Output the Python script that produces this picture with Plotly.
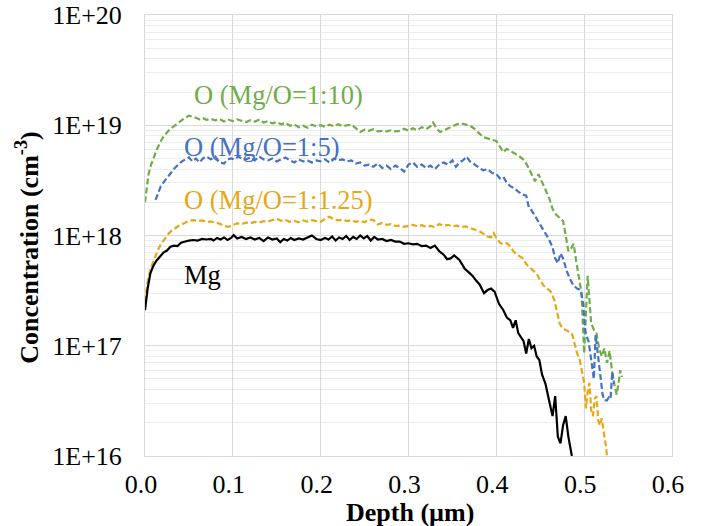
import numpy as np
import plotly.graph_objects as go

# SIMS depth profiles (depth in um, concentration in cm^-3)
mg_depth = [
    0.000, 0.003, 0.006, 0.009, 0.013, 0.017, 0.021, 0.025, 0.029, 0.033,
    0.037, 0.041, 0.045, 0.050, 0.055, 0.060, 0.065, 0.070, 0.075, 0.078,
    0.082, 0.086, 0.090, 0.094, 0.098, 0.101, 0.105, 0.110, 0.115, 0.120,
    0.125, 0.130, 0.135, 0.140, 0.145, 0.150, 0.154, 0.158, 0.162, 0.166,
    0.170, 0.175, 0.180, 0.185, 0.190, 0.195, 0.200, 0.205, 0.209, 0.213,
    0.217, 0.221, 0.225, 0.229, 0.233, 0.237, 0.241, 0.245, 0.249, 0.253,
    0.257, 0.261, 0.265, 0.270, 0.275, 0.280, 0.285, 0.290, 0.295, 0.300,
    0.305, 0.310, 0.315, 0.320, 0.325, 0.330, 0.335, 0.340, 0.344, 0.348,
    0.352, 0.358, 0.364, 0.369, 0.373, 0.377, 0.381, 0.386, 0.390, 0.394,
    0.398, 0.403, 0.408, 0.412, 0.416, 0.419, 0.422, 0.425, 0.428, 0.431,
    0.434, 0.437, 0.440, 0.443, 0.446, 0.449, 0.452, 0.456, 0.460, 0.464,
    0.467, 0.470, 0.473, 0.476, 0.479, 0.482, 0.486, 0.489,
]
mg_conc = [
    2.1e17, 3.3e17, 4.5e17, 5.2e17, 5.9e17, 6.4e17, 7.0e17, 7.3e17, 7.9e17, 8.1e17,
    8.0e17, 8.6e17, 8.8e17, 9.0e17, 9.1e17, 9.0e17, 9.3e17, 9.2e17, 9.3e17, 9.0e17,
    9.5e17, 9.2e17, 9.6e17, 9.1e17, 9.5e17, 1.01e18, 9.4e17, 9.7e17, 9.3e17, 9.6e17,
    9.2e17, 9.5e17, 8.9e17, 9.6e17, 9.2e17, 9.4e17, 8.7e17, 9.3e17, 9.0e17, 9.5e17,
    9.1e17, 9.4e17, 9.2e17, 9.6e17, 1.0e18, 9.3e17, 9.1e17, 9.5e17, 9.2e17, 9.8e17,
    9.0e17, 9.6e17, 9.3e17, 9.9e17, 9.1e17, 9.7e17, 9.3e17, 1.0e18, 9.4e17, 9.9e17,
    9.0e17, 9.7e17, 9.2e17, 9.3e17, 8.9e17, 9.1e17, 8.8e17, 8.8e17, 8.4e17, 8.5e17,
    8.3e17, 8.4e17, 8.0e17, 8.1e17, 7.7e17, 8.1e17, 7.2e17, 6.7e17, 6.1e17, 6.2e17,
    6.6e17, 6.0e17, 5.0e17, 4.6e17, 4.3e17, 3.9e17, 3.6e17, 3.0e17, 3.2e17, 3.3e17,
    3.1e17, 2.4e17, 2.1e17, 1.8e17, 1.7e17, 1.45e17, 1.7e17, 1.3e17, 1.2e17, 1.1e17,
    8.5e16, 1.15e17, 9.5e16, 1.0e17, 8.0e16, 7.4e16, 5.5e16, 4.5e16, 3.2e16, 2.3e16,
    3.5e16, 1.5e16, 1.3e16, 1.9e16, 2.3e16, 1.5e16, 1.0e16, 8.0e15,
]

o125_depth = [
    0.000, 0.003, 0.006, 0.010, 0.014, 0.018, 0.022, 0.026, 0.030, 0.034,
    0.038, 0.042, 0.046, 0.050, 0.055, 0.060, 0.065, 0.070, 0.075, 0.080,
    0.085, 0.090, 0.095, 0.100, 0.105, 0.110, 0.115, 0.120, 0.125, 0.130,
    0.135, 0.140, 0.145, 0.150, 0.155, 0.160, 0.165, 0.170, 0.175, 0.180,
    0.185, 0.190, 0.195, 0.200, 0.205, 0.210, 0.215, 0.220, 0.225, 0.230,
    0.235, 0.240, 0.245, 0.250, 0.255, 0.260, 0.265, 0.270, 0.275, 0.280,
    0.285, 0.290, 0.295, 0.300, 0.305, 0.310, 0.315, 0.320, 0.325, 0.330,
    0.335, 0.340, 0.345, 0.350, 0.355, 0.360, 0.365, 0.370, 0.375, 0.380,
    0.385, 0.390, 0.394, 0.397, 0.400, 0.404, 0.408, 0.412, 0.416, 0.420,
    0.425, 0.430, 0.434, 0.438, 0.442, 0.446, 0.450, 0.454, 0.458, 0.462,
    0.466, 0.469, 0.472, 0.475, 0.479, 0.482, 0.486, 0.489, 0.492, 0.495,
    0.498, 0.500, 0.502, 0.504, 0.506, 0.508, 0.510, 0.512, 0.514, 0.516,
    0.518, 0.520, 0.522, 0.525, 0.527,
]
o125_conc = [
    2.5e17, 3.8e17, 4.9e17, 6.0e17, 7.2e17, 8.3e17, 9.2e17, 1.02e18, 1.1e18, 1.17e18,
    1.22e18, 1.26e18, 1.32e18, 1.36e18, 1.38e18, 1.35e18, 1.37e18, 1.33e18, 1.34e18, 1.30e18,
    1.28e18, 1.22e18, 1.2e18, 1.24e18, 1.29e18, 1.27e18, 1.31e18, 1.29e18, 1.33e18, 1.31e18,
    1.35e18, 1.34e18, 1.39e18, 1.42e18, 1.36e18, 1.38e18, 1.33e18, 1.36e18, 1.32e18, 1.37e18,
    1.34e18, 1.38e18, 1.35e18, 1.33e18, 1.42e18, 1.48e18, 1.40e18, 1.37e18, 1.39e18, 1.35e18,
    1.38e18, 1.33e18, 1.36e18, 1.32e18, 1.40e18, 1.38e18, 1.26e18, 1.30e18, 1.25e18, 1.27e18,
    1.22e18, 1.23e18, 1.20e18, 1.22e18, 1.25e18, 1.21e18, 1.24e18, 1.20e18, 1.22e18, 1.19e18,
    1.27e18, 1.22e18, 1.25e18, 1.21e18, 1.23e18, 1.19e18, 1.21e18, 1.17e18, 1.14e18, 1.10e18,
    1.04e18, 9.8e17, 9.6e17, 1.05e18, 9.5e17, 8.6e17, 8.3e17, 8.5e17, 7.9e17, 7.1e17,
    6.6e17, 6.2e17, 5.5e17, 5.1e17, 4.8e17, 4.5e17, 3.9e17, 3.5e17, 3.3e17, 3.1e17,
    2.6e17, 2.1e17, 1.6e17, 1.45e17, 1.38e17, 1.35e17, 1.3e17, 1.05e17, 8.5e16, 7.4e16,
    5.5e16, 4.6e16, 2.7e16, 3.8e16, 4.6e16, 2.6e16, 2.3e16, 3.3e16, 3.5e16, 2.1e16,
    1.9e16, 2.2e16, 1.7e16, 1.2e16, 8.0e15,
]

o5_depth = [
    0.012, 0.015, 0.018, 0.022, 0.026, 0.030, 0.034, 0.038, 0.042, 0.046,
    0.050, 0.054, 0.058, 0.062, 0.066, 0.070, 0.075, 0.080, 0.085, 0.090,
    0.094, 0.098, 0.102, 0.106, 0.110, 0.115, 0.120, 0.125, 0.130, 0.135,
    0.140, 0.145, 0.150, 0.155, 0.160, 0.165, 0.170, 0.175, 0.180, 0.185,
    0.190, 0.195, 0.200, 0.205, 0.210, 0.215, 0.220, 0.225, 0.230, 0.235,
    0.240, 0.245, 0.250, 0.255, 0.260, 0.265, 0.270, 0.275, 0.280, 0.285,
    0.290, 0.295, 0.300, 0.305, 0.310, 0.315, 0.320, 0.325, 0.330, 0.335,
    0.340, 0.345, 0.350, 0.354, 0.358, 0.362, 0.366, 0.370, 0.375, 0.380,
    0.385, 0.390, 0.395, 0.400, 0.404, 0.408, 0.412, 0.416, 0.420, 0.425,
    0.430, 0.434, 0.437, 0.440, 0.444, 0.448, 0.452, 0.456, 0.460, 0.464,
    0.467, 0.470, 0.473, 0.476, 0.480, 0.484, 0.488, 0.492, 0.496, 0.499,
    0.501, 0.503, 0.505, 0.507, 0.509, 0.511, 0.513, 0.515, 0.517, 0.519,
    0.521, 0.523, 0.526, 0.528, 0.530, 0.532, 0.534,
]
o5_conc = [
    2.1e18, 2.4e18, 2.8e18, 3.1e18, 3.4e18, 3.8e18, 4.1e18, 4.4e18, 4.7e18, 4.9e18,
    5.1e18, 4.7e18, 5.0e18, 4.6e18, 5.0e18, 5.2e18, 4.9e18, 5.2e18, 4.6e18, 4.5e18,
    4.9e18, 5.0e18, 4.9e18, 5.2e18, 5.0e18, 4.9e18, 5.1e18, 4.8e18, 5.2e18, 4.9e18,
    4.8e18, 5.0e18, 4.7e18, 4.9e18, 5.1e18, 4.8e18, 4.6e18, 4.9e18, 4.7e18, 4.8e18,
    4.6e18, 4.8e18, 4.7e18, 4.9e18, 4.6e18, 5.0e18, 4.8e18, 4.9e18, 4.7e18, 4.8e18,
    4.5e18, 4.6e18, 4.3e18, 4.4e18, 4.2e18, 4.5e18, 4.1e18, 4.3e18, 4.0e18, 4.3e18,
    4.1e18, 3.8e18, 4.4e18, 4.6e18, 4.2e18, 4.4e18, 4.1e18, 4.3e18, 4.0e18, 4.4e18,
    4.6e18, 4.4e18, 4.8e18, 4.2e18, 4.6e18, 4.8e18, 5.2e18, 4.7e18, 4.4e18, 4.2e18,
    3.9e18, 4.0e18, 3.7e18, 3.6e18, 3.3e18, 3.4e18, 3.0e18, 2.8e18, 2.7e18, 2.5e18,
    2.35e18, 2.3e18, 1.8e18, 1.7e18, 1.5e18, 1.35e18, 1.2e18, 1.05e18, 9.2e17, 7.8e17,
    6.2e17, 5.6e17, 6.9e17, 6.2e17, 4.8e17, 4.0e17, 3.5e17, 3.3e17, 3.2e17, 2.4e17,
    1.4e17, 1.2e17, 1.1e17, 8.5e16, 6.5e16, 5.0e16, 1.25e17, 9.0e16, 6.8e16, 5.0e16,
    3.6e16, 3.2e16, 3.2e16, 3.4e16, 3.3e16, 5.8e16, 4.5e16,
]

o10_depth = [
    0.000, 0.002, 0.004, 0.007, 0.010, 0.013, 0.017, 0.021, 0.025, 0.029,
    0.033, 0.037, 0.041, 0.045, 0.050, 0.054, 0.058, 0.062, 0.066, 0.070,
    0.075, 0.080, 0.085, 0.090, 0.095, 0.100, 0.105, 0.110, 0.115, 0.120,
    0.125, 0.130, 0.135, 0.140, 0.145, 0.150, 0.155, 0.160, 0.165, 0.170,
    0.175, 0.180, 0.185, 0.190, 0.195, 0.200, 0.205, 0.210, 0.215, 0.220,
    0.225, 0.230, 0.235, 0.240, 0.245, 0.250, 0.255, 0.260, 0.265, 0.270,
    0.275, 0.280, 0.285, 0.290, 0.295, 0.300, 0.305, 0.310, 0.315, 0.320,
    0.325, 0.328, 0.332, 0.336, 0.340, 0.345, 0.350, 0.355, 0.360, 0.365,
    0.370, 0.375, 0.380, 0.385, 0.390, 0.395, 0.400, 0.404, 0.408, 0.412,
    0.416, 0.420, 0.424, 0.428, 0.432, 0.436, 0.440, 0.444, 0.448, 0.452,
    0.456, 0.460, 0.464, 0.468, 0.472, 0.476, 0.479, 0.482, 0.485, 0.488,
    0.491, 0.494, 0.497, 0.499, 0.500, 0.502, 0.504, 0.506, 0.508, 0.511,
    0.514, 0.517, 0.520, 0.523, 0.526, 0.529, 0.532, 0.535, 0.537, 0.539,
    0.541, 0.543,
]
o10_conc = [
    2.0e18, 2.9e18, 3.6e18, 4.4e18, 5.2e18, 5.9e18, 6.9e18, 7.9e18, 8.6e18, 9.3e18,
    9.8e18, 1.04e19, 1.1e19, 1.16e19, 1.22e19, 1.2e19, 1.17e19, 1.13e19, 1.16e19, 1.12e19,
    1.14e19, 1.11e19, 1.14e19, 1.08e19, 1.12e19, 1.09e19, 1.13e19, 1.1e19, 1.07e19, 1.11e19,
    1.08e19, 1.12e19, 1.06e19, 1.09e19, 1.04e19, 1.07e19, 1.02e19, 1.05e19, 9.9e18, 1.02e19,
    9.6e18, 9.9e18, 9.5e18, 1.01e19, 9.8e18, 1.0e19, 9.7e18, 1.01e19, 9.8e18, 1.02e19,
    9.8e18, 1.0e19, 1.01e19, 9.4e18, 8.7e18, 9.1e18, 8.9e18, 9.2e18, 8.8e18, 8.9e18,
    8.8e18, 9.0e18, 8.8e18, 8.9e18, 9.3e18, 8.9e18, 9.4e18, 9.0e18, 9.6e18, 9.2e18,
    9.8e18, 1.06e19, 9.3e18, 8.7e18, 9.0e18, 9.5e18, 9.8e18, 1.02e19, 1.04e19, 1.02e19,
    9.9e18, 9.3e18, 8.6e18, 7.8e18, 7.6e18, 7.4e18, 7.2e18, 6.4e18, 5.7e18, 6.1e18,
    5.8e18, 5.6e18, 5.4e18, 5.1e18, 4.8e18, 4.2e18, 3.6e18, 3.1e18, 3.6e18, 3.1e18,
    2.6e18, 2.2e18, 1.75e18, 1.55e18, 1.45e18, 1.35e18, 1.0e18, 7.2e17, 7.6e17, 8.4e17,
    5.8e17, 4.2e17, 3.0e17, 1.3e17, 8.5e16, 2.0e17, 4.3e17, 2.6e17, 1.6e17, 1.4e17,
    1.3e17, 9.5e16, 8.0e16, 9.5e16, 7.0e16, 9.0e16, 5.6e16, 4.2e16, 3.6e16, 4.5e16,
    6.0e16, 5.2e16,
]

series = [
    ("O (Mg/O=1:10)", o10_depth, o10_conc, "#70AD47", "6px,3px"),
    ("O (Mg/O=1:5)", o5_depth, o5_conc, "#4472C4", "6px,3px"),
    ("O (Mg/O=1:1.25)", o125_depth, o125_conc, "#E6A817", "6px,3px"),
    ("Mg", mg_depth, mg_conc, "black", "solid"),
]

# label positions (depth, concentration)
labels = [
    ("O (Mg/O=1:10)", 0.054, 1.9e19, "#70AD47"),
    ("O (Mg/O=1:5)", 0.042, 6.3e18, "#4472C4"),
    ("O (Mg/O=1:1.25)", 0.042, 2.1e18, "#E6A817"),
    ("Mg", 0.042, 4.4e17, "black"),
]

FONT = "Liberation Serif, Times New Roman, Times, serif"

fig = go.Figure()
for name, x, y, color, dash in series:
    fig.add_trace(
        go.Scatter(
            x=x,
            y=y,
            mode="lines",
            name=name,
            line=dict(color=color, width=2.2, dash=dash),
        )
    )

for text, x, y, color in labels:
    fig.add_annotation(
        x=x,
        y=np.log10(y),
        xref="x",
        yref="y",
        text=text,
        showarrow=False,
        xanchor="left",
        yanchor="middle",
        font=dict(family=FONT, size=26.5, color=color),
    )

# axis titles as annotations so they sit where the reference has them
fig.add_annotation(
    x=-0.222,
    y=0.472,
    xref="paper",
    yref="paper",
    text="<b>Concentration (cm<sup>-3</sup>)</b>",
    textangle=-90,
    showarrow=False,
    xanchor="center",
    yanchor="middle",
    font=dict(family=FONT, size=26, color="black"),
)
fig.add_annotation(
    x=0.502,
    y=-0.127,
    xref="paper",
    yref="paper",
    text="<b>Depth (µm)</b>",
    showarrow=False,
    xanchor="center",
    yanchor="middle",
    font=dict(family=FONT, size=26, color="black"),
)

minor_vals = [k * 10.0**e for e in range(16, 20) for k in range(2, 10)]

fig.update_layout(
    template="none",
    width=704,
    height=526,
    margin=dict(l=145, r=32, t=15, b=70),
    plot_bgcolor="white",
    paper_bgcolor="white",
    showlegend=False,
    font=dict(family=FONT, size=26, color="black"),
    xaxis=dict(
        range=[0, 0.6],
        automargin=False,
        tickmode="linear",
        tick0=0,
        dtick=0.1,
        tickformat=".1f",
        showgrid=True,
        gridcolor="#D9D9D9",
        gridwidth=1,
        showline=True,
        mirror=True,
        linecolor="#D9D9D9",
        linewidth=1,
        zeroline=False,
        ticks="",
        ticklabelstandoff=5,
        ticklabelshift=-4,
        tickfont=dict(family=FONT, size=26, color="black"),
    ),
    yaxis=dict(
        type="log",
        range=[16, 20],
        automargin=False,
        tickmode="array",
        tickvals=[1e16, 1e17, 1e18, 1e19, 1e20],
        ticktext=["1E+16", "1E+17", "1E+18", "1E+19", "1E+20"],
        ticklabeloverflow="allow",
        showgrid=True,
        gridcolor="#D9D9D9",
        gridwidth=1,
        minor=dict(
            tickmode="array",
            tickvals=minor_vals,
            showgrid=True,
            gridcolor="#EDEDED",
            gridwidth=1,
            ticks="",
        ),
        showline=True,
        mirror=True,
        linecolor="#D9D9D9",
        linewidth=1,
        zeroline=False,
        ticks="",
        ticklabelstandoff=17,
        tickfont=dict(family=FONT, size=26, color="black"),
    ),
)

# drop the default 8px page margin so the figure fills the window exactly
fig.write_html(
    "out.html",
    config={"displayModeBar": False},
    post_script="document.body.style.margin='0px';document.body.style.overflow='hidden';",
)
